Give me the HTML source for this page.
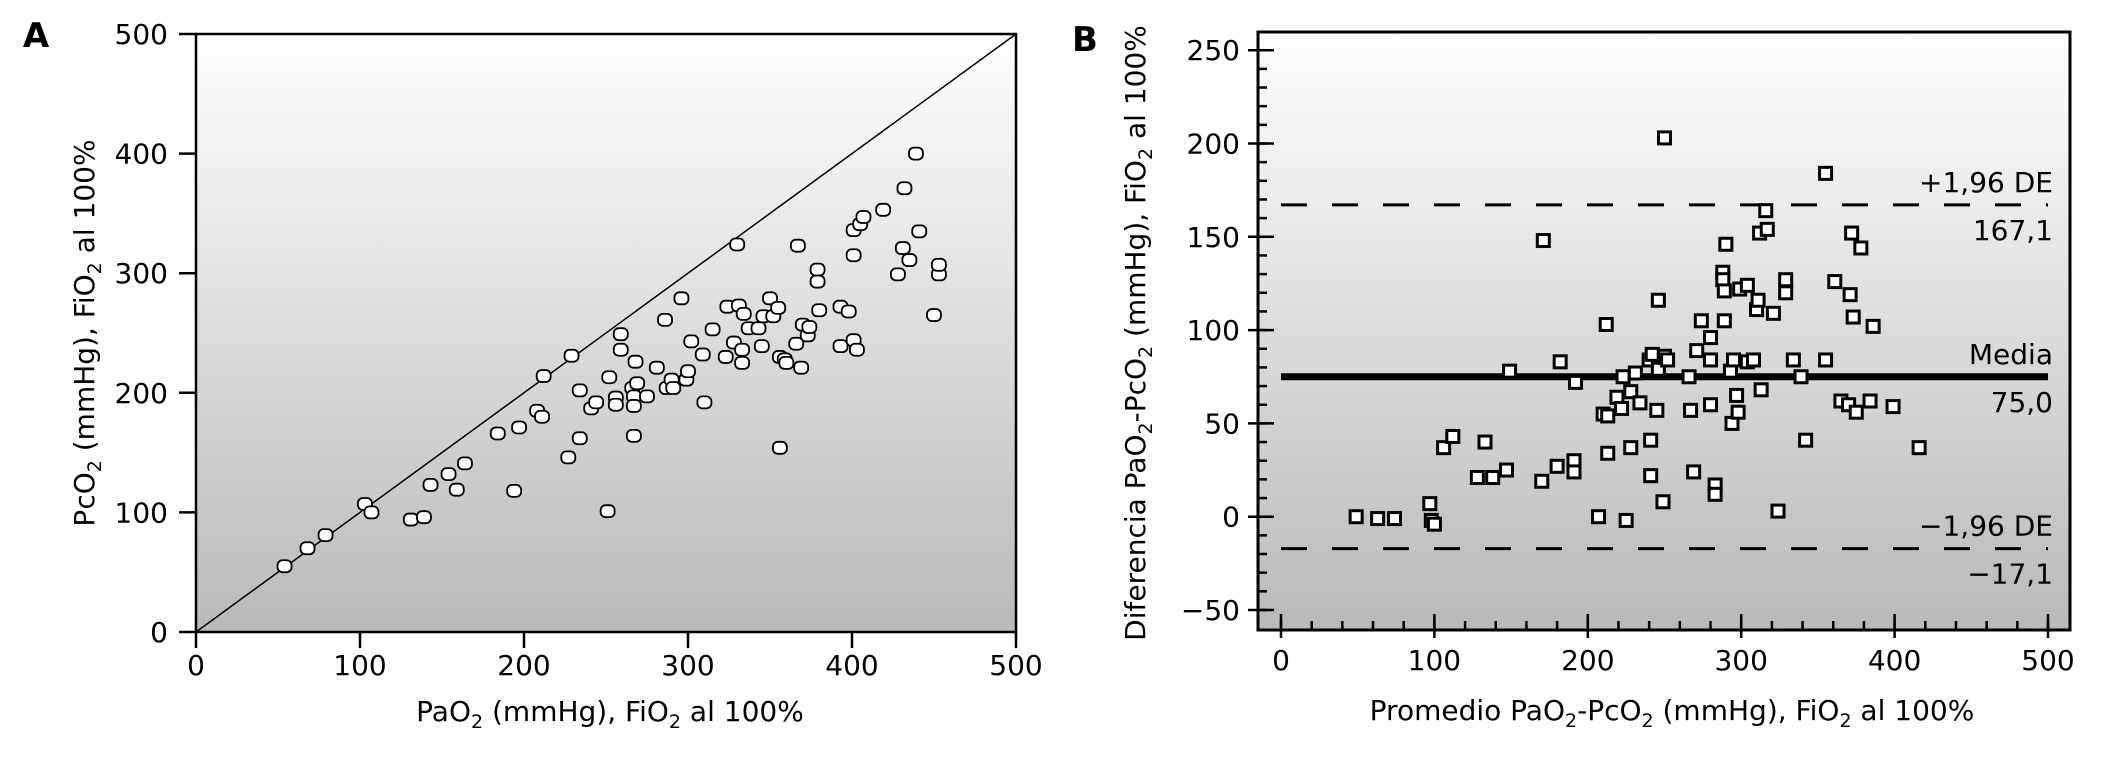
<!DOCTYPE html>
<html><head><meta charset="utf-8"><style>
html,body{margin:0;padding:0;background:#fff;}
svg{display:block;font-family:"DejaVu Sans","Liberation Sans",sans-serif;}
</style></head><body>
<svg id="fig" width="2108" height="758" viewBox="0 0 2108 758">
<defs>
<linearGradient id="bg" x1="0" y1="0" x2="0" y2="1">
<stop offset="0" stop-color="#ffffff"/><stop offset="1" stop-color="#b9b9b9"/>
</linearGradient>
</defs>
<g id="pa"></g>
<g id="pb"></g>
</svg>
<script>
// Panel A data
const aPaO2 = [54,68,79,103,107,131,139,143,154,159,164,184,194,197,208,211,212,227,229,234,234,241,244,251,252,256,256,259,259,266,267,267,267,268,269,275,281,286,287,290,291,296,299,300,302,309,310,315,323,324,328,330,331,333,333,334,337,343,345,346,350,352,355,356,356,359,360,366,367,369,370,373,374,379,379,380,393,393,398,401,401,401,403,405,407,419,428,431,432,435,439,441,450,453,453];
const aPcO2 = [55,70,81,107,100,94,96,123,132,119,141,166,118,171,185,180,214,146,231,162,202,187,192,101,213,196,190,249,236,204,197,189,164,226,208,197,221,261,204,211,204,279,211,218,243,232,192,253,230,272,242,324,273,236,225,266,254,254,239,264,279,264,271,230,154,228,225,241,323,221,257,248,255,303,293,269,272,239,268,336,315,244,236,341,347,353,299,321,371,311,400,335,265,299,307];
const aTicks = [0,100,200,300,400,500];
// Panel B data
const bMean = [49,63,74,97,98,100,106,112,128,133,138,147,149,170,171,180,182,191,191,192,207,210,212,213,213,219,222,223,225,228,228,231,234,240,241,241,242,245,246,246,249,250,250,252,266,267,269,271,274,280,280,280,283,283,288,288,289,289,290,293,294,295,297,298,299,304,304,308,310,311,312,313,316,317,321,324,329,329,334,339,342,355,355,361,365,370,371,372,373,375,378,384,386,399,416];
const bDiff = [0,-1,-1,7,-2,-4,37,43,21,40,21,25,78,19,148,27,83,30,24,72,0,55,103,54,34,64,58,75,-2,37,67,77,61,84,41,22,87,57,79,116,8,203,86,84,75,57,24,89,105,96,84,60,17,12,131,127,105,121,146,78,50,84,65,56,122,83,124,84,111,116,152,68,164,154,109,3,127,120,84,75,41,184,84,126,62,60,119,152,107,56,144,62,102,59,37];
const bXTicks = [0,100,200,300,400,500];
const bYTicks = [-50,0,50,100,150,200,250];
const bLineValues = [75.0, 167.1, -17.1];
const bLineLabels = ["Media","+1,96 DE","\u22121,96 DE"];
const bLineValueText = ["75,0","167,1","\u221217,1"];

const NS="http://www.w3.org/2000/svg";
function mk(parent,tag,attrs,text){const e=document.createElementNS(NS,tag);for(const k in attrs)e.setAttribute(k,attrs[k]);if(text!==undefined)e.textContent=text;parent.appendChild(e);return e;}

// ---- Panel A ----
const pa=document.getElementById('pa');
const ax=v=>196+v*1.64, ay=v=>632-v*1.196;
let r=mk(pa,'rect',{x:196,y:34,width:820,height:598,fill:'url(#bg)',stroke:'#000','stroke-width':2.5});

let l=mk(pa,'line',{x1:ax(0),y1:ay(0),x2:ax(500),y2:ay(500),stroke:'#000','stroke-width':1.5});

aTicks.forEach(t=>{
  let e=mk(pa,'line',{x1:ax(t),y1:632,x2:ax(t),y2:648,stroke:'#000','stroke-width':2.5});
  
  e=mk(pa,'text',{x:ax(t),y:675,'text-anchor':'middle','font-size':28},String(t));
  
  e=mk(pa,'line',{x1:179,y1:ay(t),x2:196,y2:ay(t),stroke:'#000','stroke-width':2.5});
  
  e=mk(pa,'text',{x:168,y:ay(t)+10,'text-anchor':'end','font-size':28},String(t));
  
});
aPaO2.forEach((v,i)=>{
  let e=mk(pa,'rect',{x:ax(v)-7,y:ay(aPcO2[i])-6,width:14,height:12,rx:5,ry:5,fill:'#fff',stroke:'#000','stroke-width':1.8});
  
});
let t=mk(pa,'text',{x:36,y:47,'text-anchor':'middle','font-size':34,'font-weight':'bold'},'A');

t=mk(pa,'text',{x:610,y:721,'text-anchor':'middle','font-size':28});
t.innerHTML='PaO<tspan font-size="19" dy="7">2</tspan><tspan dy="-7"> (mmHg), FiO</tspan><tspan font-size="19" dy="7">2</tspan><tspan dy="-7"> al 100%</tspan>';

t=mk(pa,'text',{x:0,y:0,'text-anchor':'middle','font-size':28,transform:'translate(94,333) rotate(-90)'});
t.innerHTML='PcO<tspan font-size="19" dy="7">2</tspan><tspan dy="-7"> (mmHg), FiO</tspan><tspan font-size="19" dy="7">2</tspan><tspan dy="-7"> al 100%</tspan>';


// ---- Panel B ----
const pb=document.getElementById('pb');
const bx=v=>1281+v*1.534, by=v=>516.7-v*1.866;
r=mk(pb,'rect',{x:1258,y:32,width:812,height:598,fill:'url(#bg)',stroke:'#000','stroke-width':3});

for(let v=-50;v<=250;v+=10){
  let e=mk(pb,'line',{x1:1258,y1:by(v),x2:1267,y2:by(v),stroke:'#000','stroke-width':2.5});
  
}
for(let v=0;v<=500;v+=20){
  let e=mk(pb,'line',{x1:bx(v),y1:630,x2:bx(v),y2:621,stroke:'#000','stroke-width':2.5});
  
}
bYTicks.forEach(v=>{
  let e=mk(pb,'line',{x1:1248,y1:by(v),x2:1274,y2:by(v),stroke:'#000','stroke-width':2.5});
  
  e=mk(pb,'text',{x:1240,y:by(v)+10,'text-anchor':'end','font-size':28},v<0?'\u2212'+Math.abs(v):String(v));
  
});
bXTicks.forEach(v=>{
  let e=mk(pb,'line',{x1:bx(v),y1:614,x2:bx(v),y2:638,stroke:'#000','stroke-width':2.5});
  
  e=mk(pb,'text',{x:bx(v),y:670,'text-anchor':'middle','font-size':28},String(v));
  
});
// reference lines
bLineValues.forEach((v,i)=>{
  let e;
  if(i===0){ e=mk(pb,'line',{x1:bx(0),y1:by(v),x2:bx(500),y2:by(v),stroke:'#000','stroke-width':7});  }
  else { e=mk(pb,'line',{x1:bx(0),y1:by(v),x2:bx(500),y2:by(v),stroke:'#000','stroke-width':3,'stroke-dasharray':'26 25'});  }
  
  e=mk(pb,'text',{x:2053,y:by(v)-13,'text-anchor':'end','font-size':28},bLineLabels[i]);
  
  e=mk(pb,'text',{x:2053,y:by(v)+35,'text-anchor':'end','font-size':28},bLineValueText[i]);
  
});
bMean.forEach((v,i)=>{
  let e=mk(pb,'rect',{x:bx(v)-6,y:by(bDiff[i])-6,width:12,height:12,fill:'#fff',stroke:'#000','stroke-width':3});
  
});
t=mk(pb,'text',{x:1085,y:51,'text-anchor':'middle','font-size':34,'font-weight':'bold'},'B');

t=mk(pb,'text',{x:1672,y:720,'text-anchor':'middle','font-size':28});
t.innerHTML='Promedio PaO<tspan font-size="19" dy="7">2</tspan><tspan dy="-7">-PcO</tspan><tspan font-size="19" dy="7">2</tspan><tspan dy="-7"> (mmHg), FiO</tspan><tspan font-size="19" dy="7">2</tspan><tspan dy="-7"> al 100%</tspan>';

t=mk(pb,'text',{x:0,y:0,'text-anchor':'middle','font-size':28,transform:'translate(1145,333) rotate(-90)'});
t.innerHTML='Diferencia PaO<tspan font-size="19" dy="7">2</tspan><tspan dy="-7">-PcO</tspan><tspan font-size="19" dy="7">2</tspan><tspan dy="-7"> (mmHg), FiO</tspan><tspan font-size="19" dy="7">2</tspan><tspan dy="-7"> al 100%</tspan>';

</script>
</body></html>
